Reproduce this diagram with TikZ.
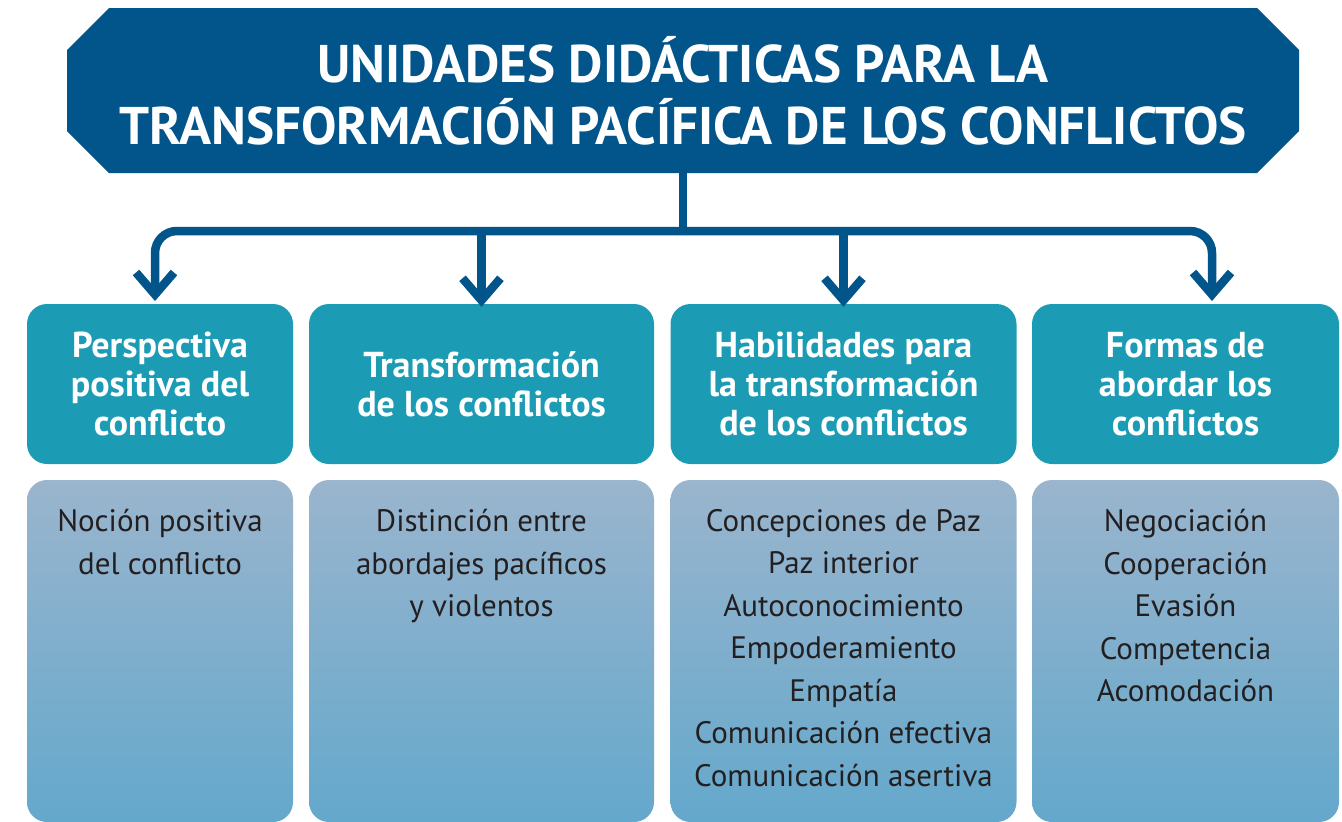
\documentclass[tikz,border=0pt]{standalone}
\usepackage{fontspec}
\setmainfont{PT Sans}
\usetikzlibrary{arrows.meta,shapes.misc}
\definecolor{titleblue}{HTML}{02558A}
\definecolor{headteal}{HTML}{1B9CB4}
\definecolor{bodytop}{HTML}{9AB5CD}
\definecolor{bodybot}{HTML}{64A8CC}
\definecolor{bodytext}{HTML}{231F20}
\tikzset{>/.tip={Straight Barb[length=22pt,width=38pt,sharp]}}
\tikzset{
  link/.style={draw=titleblue, line width=8.5pt},
  head/.style={fill=headteal, rounded corners=20pt, minimum height=160pt, inner sep=0pt,
    text=white, align=center, font={\fontsize{36}{39}\selectfont\bfseries}},
  body/.style={top color=bodytop, bottom color=bodybot, draw=none, rounded corners=20pt,
    minimum height=342pt, inner sep=0pt},
  items/.style={anchor=north, align=center, text=bodytext, inner sep=0pt,
    font={\fontsize{31}{42.5}\selectfont}},
}

\begin{document}
\begin{tikzpicture}[x=1pt,y=-1pt]
\useasboundingbox (0,0) rectangle (1342,822);

\node[chamfered rectangle, chamfered rectangle xsep=21pt, chamfered rectangle ysep=21pt,
  fill=titleblue, minimum width=1232pt, minimum height=165pt, inner sep=0pt,
  text=white, align=center, font={\fontsize{53}{62}\selectfont\bfseries}]
  (title) at (683,90.5) {UNIDADES DIDÁCTICAS PARA LA\\TRANSFORMACIÓN PACÍFICA DE LOS CONFLICTOS};

\node[head, minimum width=266pt] (h1) at (160,384) {Perspectiva\\positiva del\\conflicto};
\node[head, minimum width=345pt] (h2) at (481.5,384) {Transformación\\de los conflictos};
\node[head, minimum width=346pt] (h3) at (843.5,384) {Habilidades para\\la transformación\\de los conflictos};
\node[head, minimum width=307pt] (h4) at (1185.5,384) {Formas de\\abordar los\\conflictos};

\node[body, minimum width=266pt] (b1) at (160,651) {};
\node[body, minimum width=345pt] (b2) at (481.5,651) {};
\node[body, minimum width=346pt] (b3) at (843.5,651) {};
\node[body, minimum width=307pt] (b4) at (1185.5,651) {};

\node[items] (l1) at (160,509) {Noción positiva\\del conflicto};
\node[items] (l2) at (481.5,509) {Distinción entre\\abordajes pacíficos\\y violentos};
\node[items] (l3) at (843.5,509) {Concepciones de Paz\\Paz interior\\Autoconocimiento\\Empoderamiento\\Empatía\\Comunicación efectiva\\Comunicación asertiva};
\node[items] (l4) at (1185.5,509) {Negociación\\Cooperación\\Evasión\\Competencia\\Acomodación};

\coordinate (fork) at (683,231);
\coordinate (a1) at (155,301);
\coordinate (a4) at (1212,301);

\draw[link] (title.south) -- (fork);
\draw[link, rounded corners=22pt, ->] (fork) -| (a1);
\draw[link, rounded corners=22pt, ->] (fork) -| (a4);
\draw[link, ->] (fork -| h2.north) -- ([yshift=-3pt]h2.north);
\draw[link, ->] (fork -| h3.north) -- ([yshift=-3pt]h3.north);
\end{tikzpicture}
\end{document}
